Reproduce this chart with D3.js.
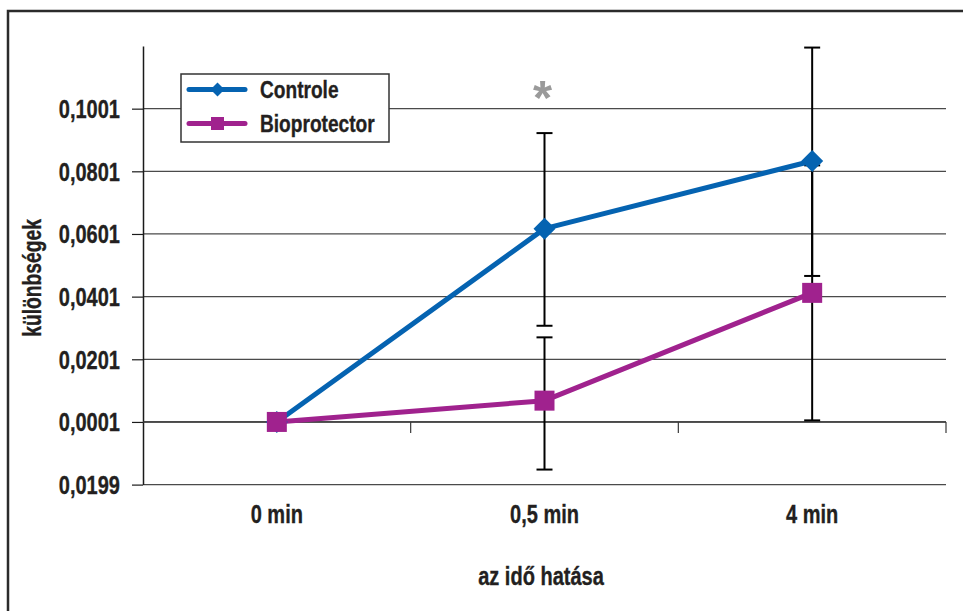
<!DOCTYPE html>
<html>
<head>
<meta charset="utf-8">
<script src="https://cdn.jsdelivr.net/npm/d3@7"></script>
<style>
  html, body { margin: 0; padding: 0; background: #fff; }
  svg text { font-family: "Liberation Sans", Arial, sans-serif; font-weight: bold; fill: #231f20; stroke: #231f20; stroke-width: 0.35px; }
</style>
</head>
<body>
<svg id="chart" width="963" height="611"></svg>
<script>
// Time points on the category axis
const categories = ["0 min", "0,5 min", "4 min"];

// Mean differences per group
const controleValues = [0.0001, 0.0618, 0.0834];
const bioValues      = [0.0001, 0.0069, 0.0413];

// Error bar extents (above / below the mean)
const controleErrPlus  = [0, 0.0305, 0.0362];
const controleErrMinus = [0, 0.0310, 0.0367];
const bioErrPlus       = [0, 0.0202, 0.0407];
const bioErrMinus      = [0, 0.0220, 0.0407];

// Value-axis ticks and how they are printed
const tickValues = [-0.0199, 0.0001, 0.0201, 0.0401, 0.0601, 0.0801, 0.1001];
const tickLabels = ["0,0199", "0,0001", "0,0201", "0,0401", "0,0601", "0,0801", "0,1001"];

const seriesNames = ["Controle", "Bioprotector"];

const svg = d3.select("#chart");
const W = 963, H = 611;

const plot = { left: 143, right: 946, top: 46, bottom: 484.6 };

const x = d3.scaleBand().domain(categories).range([plot.left, plot.right]).paddingInner(0).paddingOuter(0);
const y = d3.scaleLinear().domain([-0.0199, 0.1201]).range([plot.bottom, plot.top]);
const cx = c => x(c) + x.bandwidth() / 2;

// Condensed look: squeeze each label horizontally
function narrow(sel, k = 0.77) {
  sel.each(function () {
    const len = this.getComputedTextLength();
    d3.select(this).attr("textLength", len * k).attr("lengthAdjust", "spacingAndGlyphs");
  });
}

// Outer frame
svg.append("rect")
  .attr("x", 8).attr("y", 11).attr("width", W + 20).attr("height", H + 20)
  .attr("fill", "none").attr("stroke", "#2b2b2b").attr("stroke-width", 2.5);

// Horizontal gridlines
svg.append("g").selectAll("line").data(tickValues).join("line")
  .attr("x1", plot.left).attr("x2", plot.right)
  .attr("y1", d => y(d)).attr("y2", d => y(d))
  .attr("stroke", "#4a4a4a").attr("stroke-width", 1.2);

// Value axis with outward ticks
const yAxis = d3.axisLeft(y)
  .tickValues(tickValues)
  .tickFormat((d, i) => tickLabels[i])
  .tickSizeInner(11).tickSizeOuter(0).tickPadding(12);

const gy = svg.append("g").attr("transform", `translate(${plot.left},0)`).call(yAxis);
gy.attr("font-family", null).attr("font-size", null);
gy.select(".domain").attr("stroke", "#1a1a1a").attr("stroke-width", 1.5);
gy.selectAll(".tick line").attr("stroke", "#1a1a1a").attr("stroke-width", 1.2);
gy.selectAll(".tick text")
  .attr("font-size", 26).attr("fill", "#231f20").attr("dy", "0.34em")
  .call(narrow);

// Category axis crossing at zero, with tick marks between categories
const catAxisY = y(0.0001);
svg.append("line")
  .attr("x1", plot.left).attr("x2", plot.right)
  .attr("y1", catAxisY).attr("y2", catAxisY)
  .attr("stroke", "#3a3a3a").attr("stroke-width", 1.4);
const boundaries = categories.map(c => x(c) + x.bandwidth());
svg.append("g").selectAll("line").data(boundaries).join("line")
  .attr("x1", d => d).attr("x2", d => d)
  .attr("y1", catAxisY).attr("y2", catAxisY + 11)
  .attr("stroke", "#3a3a3a").attr("stroke-width", 1.2);

// Category labels below the plot
svg.append("g").selectAll("text").data(categories).join("text")
  .attr("x", d => cx(d)).attr("y", 523)
  .attr("text-anchor", "middle").attr("font-size", 26)
  .text(d => d)
  .call(narrow);

// Axis titles
svg.append("text")
  .attr("x", 541).attr("y", 585)
  .attr("text-anchor", "middle").attr("font-size", 26)
  .text("az idő hatása")
  .call(narrow);
svg.append("text")
  .attr("transform", "translate(41,278) rotate(-90)")
  .attr("text-anchor", "middle").attr("font-size", 25)
  .text("különbségek")
  .call(narrow);

// Series definitions
const series = [
  { name: seriesNames[0], values: controleValues, plus: controleErrPlus, minus: controleErrMinus, color: "#0563b1", marker: "diamond" },
  { name: seriesNames[1], values: bioValues, plus: bioErrPlus, minus: bioErrMinus, color: "#a0228e", marker: "square" }
];

// Error bars
const capHalf = 8;
series.forEach(s => {
  const g = svg.append("g").attr("stroke", "#000").attr("stroke-width", 2);
  categories.forEach((c, i) => {
    if (s.plus[i] === 0 && s.minus[i] === 0) return;
    const hi = y(s.values[i] + s.plus[i]);
    const lo = y(s.values[i] - s.minus[i]);
    const px = cx(c);
    g.append("line").attr("x1", px).attr("x2", px).attr("y1", hi).attr("y2", lo);
    g.append("line").attr("x1", px - capHalf).attr("x2", px + capHalf).attr("y1", hi).attr("y2", hi);
    g.append("line").attr("x1", px - capHalf).attr("x2", px + capHalf).attr("y1", lo).attr("y2", lo);
  });
});

// Lines
const lineGen = d3.line().x((d, i) => cx(categories[i])).y(d => y(d));
series.forEach(s => {
  svg.append("path").datum(s.values)
    .attr("d", lineGen)
    .attr("fill", "none").attr("stroke", s.color).attr("stroke-width", 5)
    .attr("stroke-linejoin", "round");
});

// Markers
function drawMarker(g, type, px, py, size, color) {
  if (type === "diamond") {
    const h = size / 2;
    g.append("path")
      .attr("d", `M${px},${py - h}L${px + h},${py}L${px},${py + h}L${px - h},${py}Z`)
      .attr("fill", color);
  } else {
    g.append("rect")
      .attr("x", px - size / 2).attr("y", py - size / 2)
      .attr("width", size).attr("height", size)
      .attr("fill", color);
  }
}
series.forEach(s => {
  const g = svg.append("g");
  s.values.forEach((v, i) => {
    drawMarker(g, s.marker, cx(categories[i]), y(v), s.marker === "diamond" ? 22 : 20, s.color);
  });
});

// Significance mark
svg.append("text")
  .attr("x", cx(categories[1])).attr("dx", -2).attr("y", 113.5)
  .attr("text-anchor", "middle").attr("font-size", 49)
  .style("fill", "#9a9a9a").style("stroke", "none")
  .text("*");

// Legend
const legend = svg.append("g").attr("transform", "translate(181,74)");
legend.append("rect")
  .attr("width", 208).attr("height", 68)
  .attr("fill", "#fff").attr("stroke", "#333").attr("stroke-width", 1.5);
series.forEach((s, i) => {
  const ly = 15.5 + i * 34;
  legend.append("line")
    .attr("x1", 8).attr("x2", 64).attr("y1", ly).attr("y2", ly)
    .attr("stroke", s.color).attr("stroke-width", 5).attr("stroke-linecap", "round");
  drawMarker(legend, s.marker, 36.5, ly, s.marker === "diamond" ? 14 : 13, s.color);
  legend.append("text")
    .attr("x", 79).attr("y", ly + 8.5)
    .attr("font-size", 24.5)
    .text(s.name)
    .call(t => narrow(t, 0.78));
});
</script>
</body>
</html>
